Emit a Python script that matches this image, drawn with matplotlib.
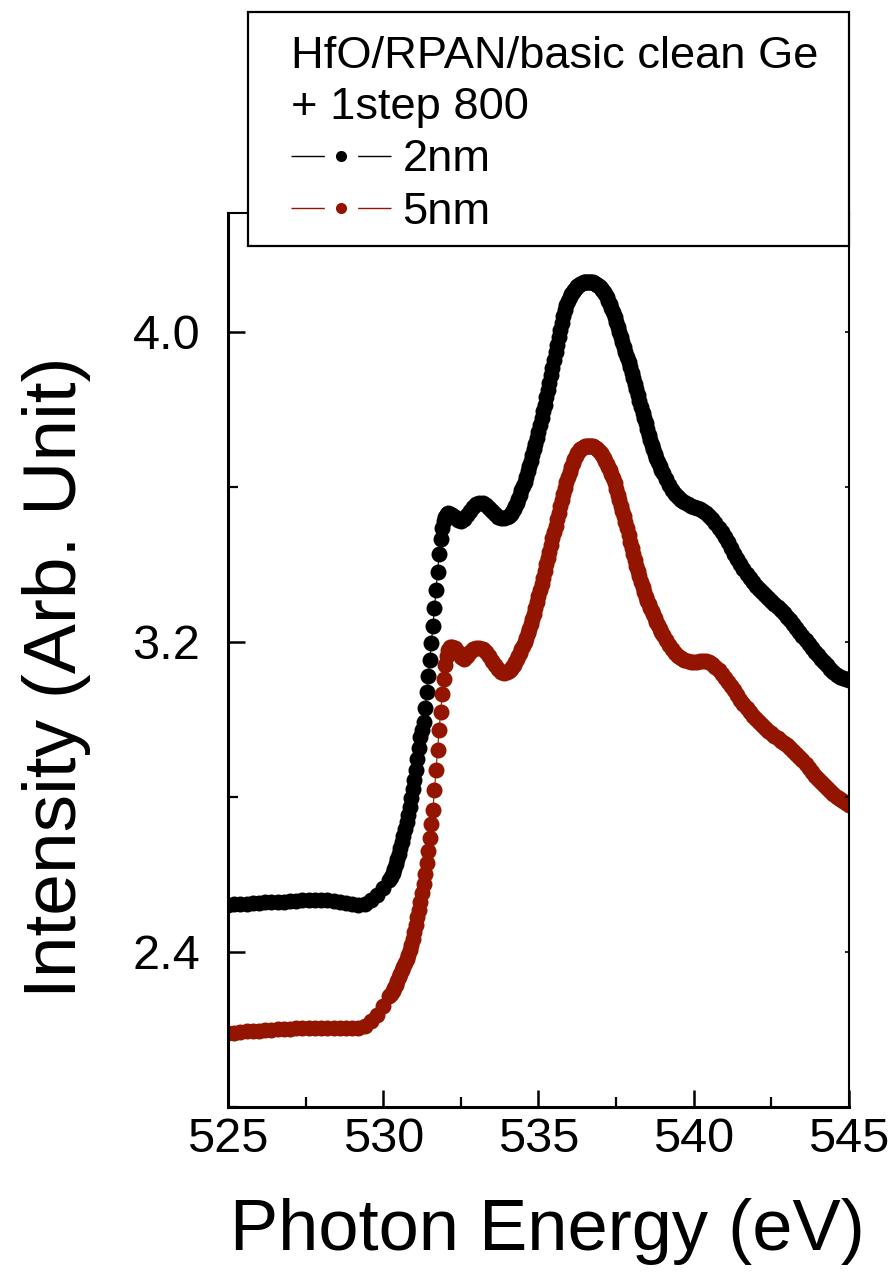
import numpy as np
import matplotlib
matplotlib.use('Agg')
import matplotlib.pyplot as plt
from matplotlib.lines import Line2D
from matplotlib.patches import Rectangle
from matplotlib.ticker import MultipleLocator, FormatStrFormatter

plt.rcParams['font.family'] = ['Liberation Sans', 'DejaVu Sans']

# photon energy grid (eV): coarse on the pre-edge, finer where the spectra are steep
energy = np.concatenate([np.linspace(525.0, 530.2, 27),
                         np.linspace(530.25, 532.2, 40),
                         np.linspace(532.3, 533.9, 17),
                         np.linspace(534.0, 539.0, 101),
                         np.linspace(539.1, 545.0, 60)])

# 2nm sample
int_2nm = [
    # 525.0 .. 530.2
    2.521, 2.523, 2.524, 2.525, 2.526, 2.526, 2.528, 2.529, 2.529, 2.530,
    2.532, 2.532, 2.533, 2.533, 2.533, 2.533, 2.533, 2.532, 2.530, 2.526,
    2.523, 2.520, 2.524, 2.534, 2.547, 2.565, 2.586,
    # 530.25 .. 532.2
    2.594, 2.604, 2.614, 2.627, 2.640, 2.653, 2.668, 2.684, 2.699, 2.717,
    2.735, 2.754, 2.774, 2.797, 2.821, 2.844, 2.870, 2.898, 2.926, 2.955,
    2.973, 2.994, 3.030, 3.071, 3.112, 3.154, 3.197, 3.241, 3.288, 3.334,
    3.381, 3.427, 3.466, 3.494, 3.512, 3.523, 3.530, 3.533, 3.530, 3.528,
    # 532.3 .. 533.9
    3.523, 3.515, 3.512, 3.517, 3.528, 3.538, 3.548,
    3.556, 3.559, 3.559, 3.554, 3.546, 3.538, 3.530, 3.523, 3.520, 3.520,
    # 534.0 .. 539.0
    3.523, 3.526, 3.530, 3.536, 3.543, 3.551, 3.559, 3.569, 3.579, 3.591,
    3.603, 3.614, 3.626, 3.640, 3.654, 3.668, 3.683, 3.697, 3.711, 3.726,
    3.742, 3.760, 3.778, 3.795, 3.812, 3.831, 3.850, 3.869, 3.889, 3.908,
    3.928, 3.947, 3.966, 3.986, 4.005, 4.024, 4.041, 4.057, 4.070, 4.081,
    4.090, 4.097, 4.103, 4.109, 4.114, 4.118, 4.121, 4.124, 4.126, 4.128,
    4.129, 4.129, 4.129, 4.129, 4.129, 4.128, 4.126, 4.124, 4.121, 4.118,
    4.114, 4.109, 4.103, 4.097, 4.090, 4.081, 4.072, 4.062, 4.052, 4.039,
    4.026, 4.013, 4.000, 3.987, 3.974, 3.961, 3.948, 3.936, 3.923, 3.909,
    3.894, 3.880, 3.866, 3.852, 3.837, 3.821, 3.806, 3.792, 3.778, 3.764,
    3.750, 3.735, 3.721, 3.709, 3.698, 3.686, 3.675, 3.664, 3.654, 3.645,
    3.636,
    # 539.1 .. 545.0
    3.621, 3.605, 3.592, 3.582, 3.574, 3.566, 3.561, 3.556, 3.551,
    3.548, 3.546, 3.543, 3.538, 3.533, 3.525, 3.517, 3.507, 3.494, 3.484,
    3.471, 3.458, 3.443, 3.427, 3.414, 3.401, 3.388, 3.375, 3.365, 3.355,
    3.345, 3.337, 3.329, 3.321, 3.314, 3.306, 3.298, 3.290, 3.283, 3.275,
    3.265, 3.257, 3.246, 3.236, 3.226, 3.215, 3.205, 3.195, 3.185, 3.174,
    3.166, 3.156, 3.148, 3.141, 3.130, 3.123, 3.115, 3.110, 3.107, 3.105,
    3.102,
]

# 5nm sample
int_5nm = [
    # 525.0 .. 530.2
    2.191, 2.192, 2.194, 2.195, 2.196, 2.197, 2.199, 2.199, 2.200, 2.201,
    2.201, 2.203, 2.203, 2.204, 2.204, 2.204, 2.205, 2.205, 2.205, 2.205,
    2.205, 2.205, 2.209, 2.222, 2.237, 2.261, 2.286,
    # 530.25 .. 532.2
    2.292, 2.299, 2.307, 2.315, 2.325, 2.335, 2.343, 2.354, 2.361, 2.372,
    2.382, 2.392, 2.405, 2.418, 2.434, 2.452, 2.470, 2.490, 2.508, 2.529,
    2.552, 2.575, 2.601, 2.630, 2.661, 2.694, 2.730, 2.766, 2.818, 2.870,
    2.921, 2.973, 3.019, 3.066, 3.105, 3.141, 3.164, 3.179, 3.187, 3.187,
    # 532.3 .. 533.9
    3.185, 3.174, 3.161, 3.156, 3.164, 3.174, 3.182,
    3.185, 3.185, 3.182, 3.174, 3.164, 3.151, 3.141, 3.130, 3.123, 3.120,
    # 534.0 .. 539.0
    3.123, 3.126, 3.130, 3.135, 3.141, 3.148, 3.156, 3.164, 3.172, 3.181,
    3.190, 3.200, 3.210, 3.222, 3.234, 3.246, 3.259, 3.273, 3.288, 3.303,
    3.319, 3.334, 3.350, 3.366, 3.383, 3.400, 3.417, 3.433, 3.450, 3.467,
    3.484, 3.500, 3.517, 3.534, 3.551, 3.566, 3.582, 3.598, 3.613, 3.626,
    3.639, 3.651, 3.662, 3.671, 3.680, 3.687, 3.693, 3.697, 3.701, 3.704,
    3.706, 3.706, 3.706, 3.706, 3.706, 3.705, 3.703, 3.701, 3.698, 3.693,
    3.688, 3.682, 3.675, 3.667, 3.659, 3.652, 3.644, 3.634, 3.623, 3.610,
    3.595, 3.580, 3.566, 3.552, 3.538, 3.524, 3.510, 3.493, 3.476, 3.459,
    3.443, 3.427, 3.412, 3.397, 3.383, 3.369, 3.355, 3.342, 3.329, 3.317,
    3.306, 3.297, 3.288, 3.280, 3.272, 3.262, 3.252, 3.243, 3.234, 3.226,
    3.218,
    # 539.1 .. 545.0
    3.205, 3.192, 3.182, 3.172, 3.164, 3.159, 3.154, 3.151, 3.148,
    3.148, 3.148, 3.151, 3.151, 3.151, 3.148, 3.143, 3.135, 3.128, 3.117,
    3.107, 3.097, 3.086, 3.076, 3.063, 3.050, 3.040, 3.030, 3.019, 3.009,
    3.001, 2.994, 2.986, 2.978, 2.970, 2.965, 2.957, 2.952, 2.945, 2.939,
    2.934, 2.926, 2.919, 2.911, 2.903, 2.895, 2.885, 2.875, 2.865, 2.854,
    2.846, 2.839, 2.831, 2.823, 2.815, 2.808, 2.800, 2.795, 2.790, 2.785,
    2.779,
]

labels = ['2nm', '5nm']
colors = ['#000000', '#931500']
legend_title = 'HfO/RPAN/basic clean Ge\n+ 1step 800'

fig = plt.figure(figsize=(8.95, 12.83), dpi=100)
ax = fig.add_axes([0.2547, 0.1372, 0.6939, 0.6968])

for y, c in zip([int_2nm, int_5nm], colors):
    ax.plot(energy, y, color=c, lw=0.8, marker='o', ms=11.5, mec='none', mfc=c)

ax.set_xlim(525, 545)
ax.set_ylim(2.0, 4.307)
ax.xaxis.set_major_locator(MultipleLocator(5))
ax.xaxis.set_minor_locator(MultipleLocator(2.5))
ax.set_yticks([2.4, 3.2, 4.0])
ax.yaxis.set_minor_locator(MultipleLocator(0.4))
ax.yaxis.set_major_formatter(FormatStrFormatter('%.1f'))

ax.tick_params(which='major', direction='in', length=12.5, width=1.8, labelsize=35)
ax.tick_params(which='minor', direction='in', length=7, width=1.6)
ax.tick_params(axis='x', which='major', pad=7)
ax.tick_params(axis='y', which='major', pad=20)

for s in ['left', 'bottom']:
    ax.spines[s].set_linewidth(2.2)
for s in ['top', 'right']:
    ax.spines[s].set_linewidth(1.5)

# tiny mirrored ticks on the right spine
ax2 = ax.twinx()
ax2.set_ylim(ax.get_ylim())
ax2.set_yticks([2.4, 3.2, 4.0])
ax2.yaxis.set_minor_locator(MultipleLocator(0.4))
ax2.tick_params(which='both', direction='in', length=3, width=1.2, labelright=False)
for s in ax2.spines.values():
    s.set_visible(False)

ax.set_xlabel('Photon Energy (eV)', fontsize=52)
ax.set_ylabel('Intensity (Arb. Unit)', fontsize=54)
ax.xaxis.set_label_coords(0.514, -0.102)
ax.yaxis.set_label_coords(-0.2206, 0.481)

# legend box, overlapping the top of the frame as in the original
frame = Rectangle((248 / 895, 1 - 246 / 1283), 601 / 895, 234 / 1283,
                  transform=fig.transFigure, fc='white', ec='black', lw=1.6, zorder=5)
fig.add_artist(frame)

handles = [Line2D([], [], color=c, lw=1.0, ls=(0, (24, 24)),
                  marker='o', ms=8, mec='none', mfc=c) for c in colors]
leg = fig.legend(handles=handles, labels=labels, title=legend_title,
                 alignment='left', loc='upper left',
                 bbox_to_anchor=(291 / 895, 1 - 36 / 1283), bbox_transform=fig.transFigure,
                 frameon=False, borderpad=0, borderaxespad=0,
                 fontsize=32.6, title_fontsize=32.6, handlelength=2.2,
                 handletextpad=0.26, labelspacing=0.26, numpoints=1)
leg.get_title().set_linespacing(1.3)
leg.set_zorder(6)

fig.savefig('out.png', dpi=100)
